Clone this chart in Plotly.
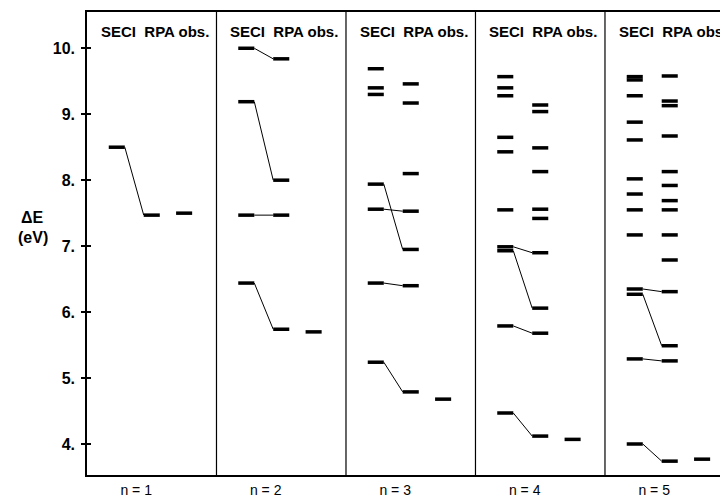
import plotly.graph_objects as go

# ---- data (eV) ----
panels = ["n = 1", "n = 2", "n = 3", "n = 4", "n = 5"]
seci = [
    [8.50],
    [10.00, 9.19, 7.47, 6.44],
    [9.69, 9.40, 9.30, 7.94, 7.56, 6.44, 5.24],
    [9.57, 9.40, 9.28, 8.65, 8.43, 7.55, 6.99, 6.93, 5.79, 4.47],
    [9.57, 9.52, 9.28, 8.88, 8.61, 8.02, 7.79, 7.55, 7.17, 6.35, 6.27, 5.29, 4.00],
]
rpa = [
    [7.47],
    [9.84, 8.00, 7.47, 5.74],
    [9.46, 9.17, 8.10, 7.53, 6.95, 6.40, 4.79],
    [9.14, 9.04, 8.49, 8.13, 7.56, 7.42, 6.90, 6.06, 5.68, 4.12],
    [9.58, 9.20, 9.13, 8.67, 8.13, 7.92, 7.69, 7.55, 7.17, 6.79, 6.31, 5.49, 5.26, 3.74],
]
obs = [
    [7.50],
    [5.70],
    [4.68],
    [4.07],
    [3.77],
]
# correlation lines: (SECI value, RPA value)
links = [
    [(8.50, 7.47)],
    [(10.00, 9.84), (9.19, 8.00), (7.47, 7.47), (6.44, 5.74)],
    [(7.94, 6.95), (7.56, 7.53), (6.44, 6.40), (5.24, 4.79)],
    [(6.99, 6.90), (6.93, 6.06), (5.79, 5.68), (4.47, 4.12)],
    [(6.35, 6.31), (6.27, 5.49), (5.29, 5.26), (4.00, 3.74)],
]
header = "SECI  RPA obs."
ytickvals = [4, 5, 6, 7, 8, 9, 10]
yticktext = ["4.", "5.", "6.", "7.", "8.", "9.", "10."]

# ---- layout constants (style, not data) ----
col_pos = {"seci": 0.23, "rpa": 0.50, "obs": 0.75}
half_w = 0.062
FONT = "Liberation Sans, Arial, sans-serif"
YR = [3.53, 10.55]

fig = go.Figure()

bx, by = [], []
lx, ly = [], []
for i in range(len(panels)):
    for key, vals in (("seci", seci[i]), ("rpa", rpa[i]), ("obs", obs[i])):
        c = i + col_pos[key]
        for v in vals:
            bx += [c - half_w, c + half_w, None]
            by += [v, v, None]
    for a, b in links[i]:
        lx += [i + col_pos["seci"] + half_w, i + col_pos["rpa"] - half_w, None]
        ly += [a, b, None]

fig.add_trace(go.Scatter(x=lx, y=ly, mode="lines", line=dict(color="black", width=1),
                         hoverinfo="skip", showlegend=False))
fig.add_trace(go.Scatter(x=bx, y=by, mode="lines", line=dict(color="black", width=3.5),
                         hoverinfo="skip", showlegend=False))
fig.add_trace(go.Scatter(x=[None], y=[None], yaxis="y2", showlegend=False))

for k in range(1, len(panels)):
    fig.add_shape(type="line", xref="x", yref="paper", x0=k, x1=k, y0=0, y1=1,
                  line=dict(color="black", width=1.2))

for i in range(len(panels)):
    fig.add_annotation(x=i + 0.525, y=10.25, xref="x", yref="y", text="<b>" + header + "</b>",
                       showarrow=False, font=dict(family=FONT, size=15, color="black"),
                       xanchor="center", yanchor="middle")

fig.add_annotation(x=-0.085, y=0.556, xref="paper", yref="paper", text="<b>ΔE</b>", showarrow=False,
                   font=dict(family=FONT, size=16, color="black"), xanchor="center", yanchor="middle")
fig.add_annotation(x=-0.085, y=0.514, xref="paper", yref="paper", text="<b>(eV)</b>", showarrow=False,
                   font=dict(family=FONT, size=16, color="black"), xanchor="center", yanchor="middle")

# page body has an 8px margin: shrink the figure so the plot area lands where the reference's does
fig.update_layout(
    width=720, height=492,
    margin=dict(l=79, r=0, t=4, b=25, autoexpand=False),
    plot_bgcolor="white", paper_bgcolor="white",
    xaxis=dict(range=[0, 4.95], tickvals=[i + 0.38 for i in range(len(panels))], ticktext=panels,
               showgrid=False, zeroline=False, showline=True, linecolor="black", linewidth=1.5,
               mirror=True, ticks="", ticklabelstandoff=1,
               tickfont=dict(family=FONT, size=14, color="black")),
    yaxis=dict(range=YR, tickvals=ytickvals, ticktext=["<b>%s</b>" % t for t in yticktext],
               showgrid=False, zeroline=False, showline=True, linecolor="black", linewidth=1.5,
               ticks="outside", ticklen=4, tickwidth=1.5, tickcolor="black", ticklabelstandoff=3,
               tickfont=dict(family=FONT, size=16, color="black")),
    yaxis2=dict(range=YR, tickvals=ytickvals, overlaying="y", side="left",
                showticklabels=False, showgrid=False, zeroline=False, showline=False,
                ticks="inside", ticklen=4, tickwidth=1.5, tickcolor="black"),
)

fig.write_html("out.html")
